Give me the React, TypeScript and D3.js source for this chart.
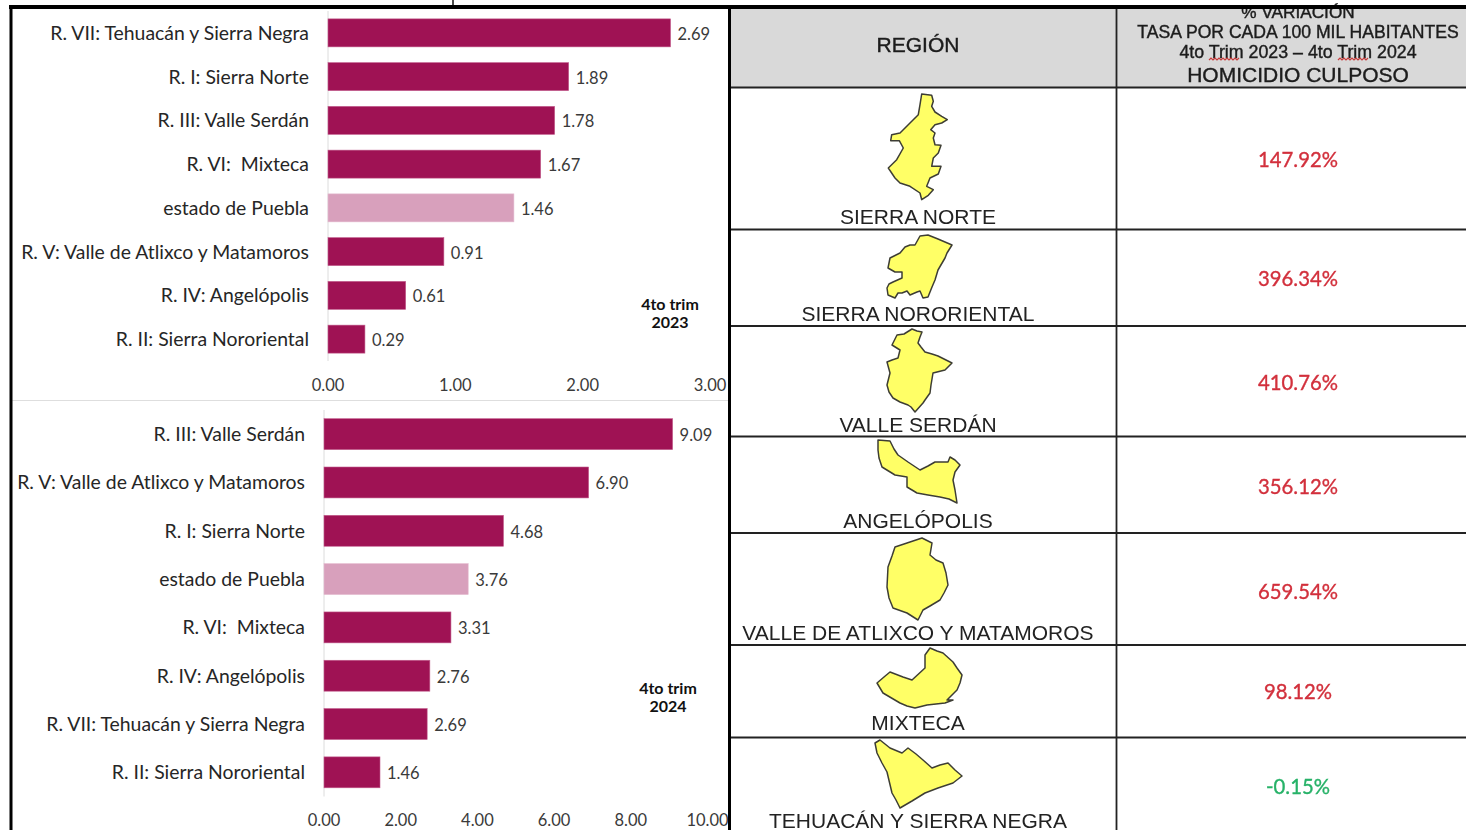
import React from 'react';
import * as d3 from 'd3';

// Chart data
const regions2023 = ['R. VII: Tehuacán y Sierra Negra', 'R. I: Sierra Norte', 'R. III: Valle Serdán', 'R. VI:  Mixteca', 'estado de Puebla', 'R. V: Valle de Atlixco y Matamoros', 'R. IV: Angelópolis', 'R. II: Sierra Nororiental'];
const values2023 = [2.69, 1.89, 1.78, 1.67, 1.46, 0.91, 0.61, 0.29];
const ticks2023 = [0, 1, 2, 3];

const regions2024 = ['R. III: Valle Serdán', 'R. V: Valle de Atlixco y Matamoros', 'R. I: Sierra Norte', 'estado de Puebla', 'R. VI:  Mixteca', 'R. IV: Angelópolis', 'R. VII: Tehuacán y Sierra Negra', 'R. II: Sierra Nororiental'];
const values2024 = [9.09, 6.9, 4.68, 3.76, 3.31, 2.76, 2.69, 1.46];
const ticks2024 = [0, 2, 4, 6, 8, 10];

// Table data
const tableRegions = ['SIERRA NORTE', 'SIERRA NORORIENTAL', 'VALLE SERDÁN', 'ANGELÓPOLIS', 'VALLE DE ATLIXCO Y MATAMOROS', 'MIXTECA', 'TEHUACÁN Y SIERRA NEGRA'];
const tableVariation = [147.92, 396.34, 410.76, 356.12, 659.54, 98.12, -0.15];

// Layout of the table
const rowEdges = [87.5, 229.5, 326, 436.5, 533, 645, 737.5];
const labelY = [216.5, 313.5, 424.5, 520.5, 632.5, 722.5, 820];
const valueY = [158.5, 277.5, 381.5, 485.5, 590.5, 690.5, 785.5];

// Region silhouettes, in page pixels
const outlines: [number, number][][] = [
  [[921.7, 94], [931.7, 95.3], [933.3, 101.3], [931.7, 106.3], [935, 112], [941.7, 116.3], [947.3, 119.7], [941.7, 123], [935, 124.7], [930.7, 129.7], [935, 133], [933.3, 138], [935, 144.7], [941, 145.3], [938.3, 153], [933.3, 158], [931.7, 166.3], [941, 166.3], [938.3, 174], [930, 178], [926.7, 186.3], [933.3, 189.7], [928.3, 195.3], [921.7, 199.7], [920, 193], [910, 186.3], [900, 183], [895, 178], [888.3, 168], [896.7, 159.7], [903.3, 148], [899.3, 140.7], [890.7, 140.7], [891.7, 134.7], [900, 133], [910, 123], [918.3, 114.7], [920, 104.7]],
  [[920, 236], [928, 235], [938, 239], [952, 245], [947, 253], [945, 258], [938, 270], [935, 280], [932, 287], [928, 297], [923, 298], [920, 291], [917, 292], [910, 295], [907, 291], [902, 293], [898, 293], [895, 298], [888, 295], [887, 288], [889, 284], [893, 282], [902, 278], [902, 272], [895, 272], [888, 268], [890, 258], [894, 256], [900, 253], [905, 247], [910, 245], [915, 245]],
  [[912, 329], [917, 331], [922, 332], [920, 337], [918, 343], [921, 347], [925, 352], [932, 354], [938, 356], [946, 360], [952, 363], [945, 370], [933, 373], [931, 385], [930, 393], [925, 400], [923, 403], [915, 412], [911, 407], [908, 405], [900, 402], [893, 398], [889, 392], [887, 385], [890, 373], [887, 362], [892, 360], [898, 358], [900, 350], [892, 345], [897, 335], [904, 334]],
  [[878, 440], [890, 441], [894, 449], [898, 455], [908, 462], [920, 470], [928, 466], [935, 462], [948, 462], [950, 457], [955, 460], [960, 465], [955, 472], [953, 480], [955, 490], [957, 503], [949, 499], [940, 497], [928, 495], [917, 493], [907, 487], [907, 477], [895, 475], [882, 467], [879, 458], [878, 450]],
  [[922, 538], [932, 543], [930, 555], [936, 560], [943, 563], [946, 573], [948, 585], [944, 593], [940, 600], [930, 606], [923, 610], [918, 620], [907, 613], [893, 608], [889, 598], [887, 587], [888, 567], [892, 556], [895, 547], [910, 542]],
  [[930, 648], [937, 651], [943, 653], [953, 662], [957, 668], [962, 675], [960, 683], [957, 690], [947, 700], [953, 700], [945, 703], [936, 704], [927, 705], [915, 708], [907, 706], [900, 703], [883, 693], [877, 683], [884, 677], [890, 672], [903, 677], [912, 680], [925, 668], [925, 655]],
  [[880, 740], [885, 744], [890, 748], [902, 753], [908, 748], [916, 754], [923, 760], [932, 768], [940, 765], [948, 763], [955, 770], [962, 776], [953, 783], [938, 788], [925, 793], [912, 801], [900, 808], [896, 800], [892, 793], [887, 772], [882, 763], [877, 753], [875, 743]],
];

const barFont = 'Lato, sans-serif';
const tableFont = '"Liberation Sans", Arial, sans-serif';
const outlinePath = d3.line().curve(d3.curveLinearClosed);
const fmt = d3.format('.2f');
const pct = (v: number) => `${v < 0 ? '-' : ''}${fmt(Math.abs(v))}%`;

type PanelProps = {
  labels: string[];
  values: number[];
  ticks: number[];
  x0: number;
  x1: number;
  yTop: number;
  yBottom: number;
  tickY: number;
  year: string;
  noteX: number;
  noteY: number;
};

const Panel = ({ labels, values, ticks, x0, x1, yTop, yBottom, tickY, year, noteX, noteY }: PanelProps) => {
  const x = d3.scaleLinear().domain([0, ticks[ticks.length - 1]]).range([x0, x1]);
  const y = d3.scaleBand<string>().domain(labels).range([yTop, yBottom]).paddingInner(0.36).paddingOuter(0.18);

  return (
    <g fontFamily={barFont} fill="#3a3a3a">
      <line x1={x0} x2={x0} y1={yTop} y2={yBottom} stroke="#dcdcdc" />
      {labels.map((label, i) => {
        const cy = y(label)! + y.bandwidth() / 2;
        return (
          <g key={label}>
            <rect
              x={x0}
              y={y(label)}
              width={x(values[i]) - x0}
              height={y.bandwidth()}
              fill={label === 'estado de Puebla' ? '#d8a0bc' : '#9f1254'}
              stroke={label === 'estado de Puebla' ? '#e4bcd0' : '#c25c8c'}
              strokeWidth={0.6}
            />
            <text x={x0 - 19} y={cy - 0.5} textAnchor="end" dominantBaseline="central" fontSize={19.4} fill="#262626" style={{ whiteSpace: 'pre' }}>{label}</text>
            <text x={x(values[i]) + 7} y={cy + 1} dominantBaseline="central" fontSize={16.5}>{fmt(values[i])}</text>
          </g>
        );
      })}
      {ticks.map(t => (
        <text key={t} x={x(t)} y={tickY} textAnchor="middle" dominantBaseline="central" fontSize={16.5}>{fmt(t)}</text>
      ))}
      <text textAnchor="middle" fontWeight={700} fontSize={16} fill="#111">
        <tspan x={noteX} y={noteY}>4to trim</tspan>
        <tspan x={noteX} dy={18}>{year}</tspan>
      </text>
    </g>
  );
};

const squiggle = (x: number, y: number, w: number) => {
  const pts: [number, number][] = d3.range(0, w + 1, 2).map((d, i) => [x + d, y + (i % 2 ? 0 : 2)]);
  return d3.line()(pts)!;
};

const App = () => (
  <svg width={1466} height={830} style={{ position: 'absolute', left: 0, top: 0, background: '#fff' }}>
    <defs>
      <filter id="soft" x="-5%" y="-5%" width="110%" height="110%">
        <feGaussianBlur stdDeviation={0.5} />
      </filter>
    </defs>
    <Panel labels={regions2023} values={values2023} ticks={ticks2023} x0={328} x1={710} yTop={11} yBottom={361} tickY={385} year="2023" noteX={670} noteY={310} />
    <line x1={12} x2={728} y1={400.5} y2={400.5} stroke="#dedede" />
    <Panel labels={regions2024} values={values2024} ticks={ticks2024} x0={324} x1={707.5} yTop={410} yBottom={796.5} tickY={820} year="2024" noteX={668} noteY={694} />

    {/* Table header */}
    <rect x={731} y={9} width={735} height={78} fill="#d9d9d9" />
    <g fontFamily={tableFont} fill="#1c1c1c" textAnchor="middle" stroke="#1c1c1c" strokeWidth={0.4} filter="url(#soft)">
      <text x={918} y={52} fontSize={21}>REGIÓN</text>
      <text x={1298} y={18} fontSize={17.2}>% VARIACIÓN</text>
      <text x={1298} y={38} fontSize={17.6}>TASA POR CADA 100 MIL HABITANTES</text>
      <text x={1298} y={57.5} fontSize={17.8}>4to Trim 2023 – 4to Trim 2024</text>
      <text x={1298} y={82} fontSize={21}>HOMICIDIO CULPOSO</text>
    </g>
    <path d={squiggle(1209, 58, 30)} fill="none" stroke="#c83a3a" strokeWidth={1.2} />
    <path d={squiggle(1338, 58, 30)} fill="none" stroke="#c83a3a" strokeWidth={1.2} />

    {/* Table rows */}
    {tableRegions.map((name, i) => (
      <g key={name}>
        <path d={outlinePath(outlines[i])!} fill="#ffff66" stroke="#3e3e34" strokeWidth={1.5} strokeLinejoin="round" filter="url(#soft)" />
        <text x={918} y={labelY[i]} textAnchor="middle" dominantBaseline="central" fontFamily={tableFont} fontSize={21} fill="#222" filter="url(#soft)">{name}</text>
        <text x={1298} y={valueY[i]} textAnchor="middle" dominantBaseline="central" fontFamily={barFont} fontSize={20.3} fill={tableVariation[i] < 0 ? '#27b268' : '#d2303c'} stroke={tableVariation[i] < 0 ? '#27b268' : '#d2303c'} strokeWidth={0.35} filter="url(#soft)">{pct(tableVariation[i])}</text>
      </g>
    ))}
    {rowEdges.map(e => (
      <line key={e} x1={731} x2={1466} y1={e} y2={e} stroke="#222" strokeWidth={1.8} />
    ))}
    <line x1={1116.5} x2={1116.5} y1={9} y2={830} stroke="#222" strokeWidth={1.8} />

    {/* Frame */}
    <line x1={453} x2={453} y1={0} y2={6} stroke="#111" strokeWidth={1.5} />
    <line x1={9} x2={1466} y1={7} y2={7} stroke="#000" strokeWidth={4} />
    <line x1={11} x2={11} y1={7} y2={830} stroke="#000" strokeWidth={3} />
    <line x1={729.5} x2={729.5} y1={7} y2={830} stroke="#000" strokeWidth={3} />
  </svg>
);

export default App;
